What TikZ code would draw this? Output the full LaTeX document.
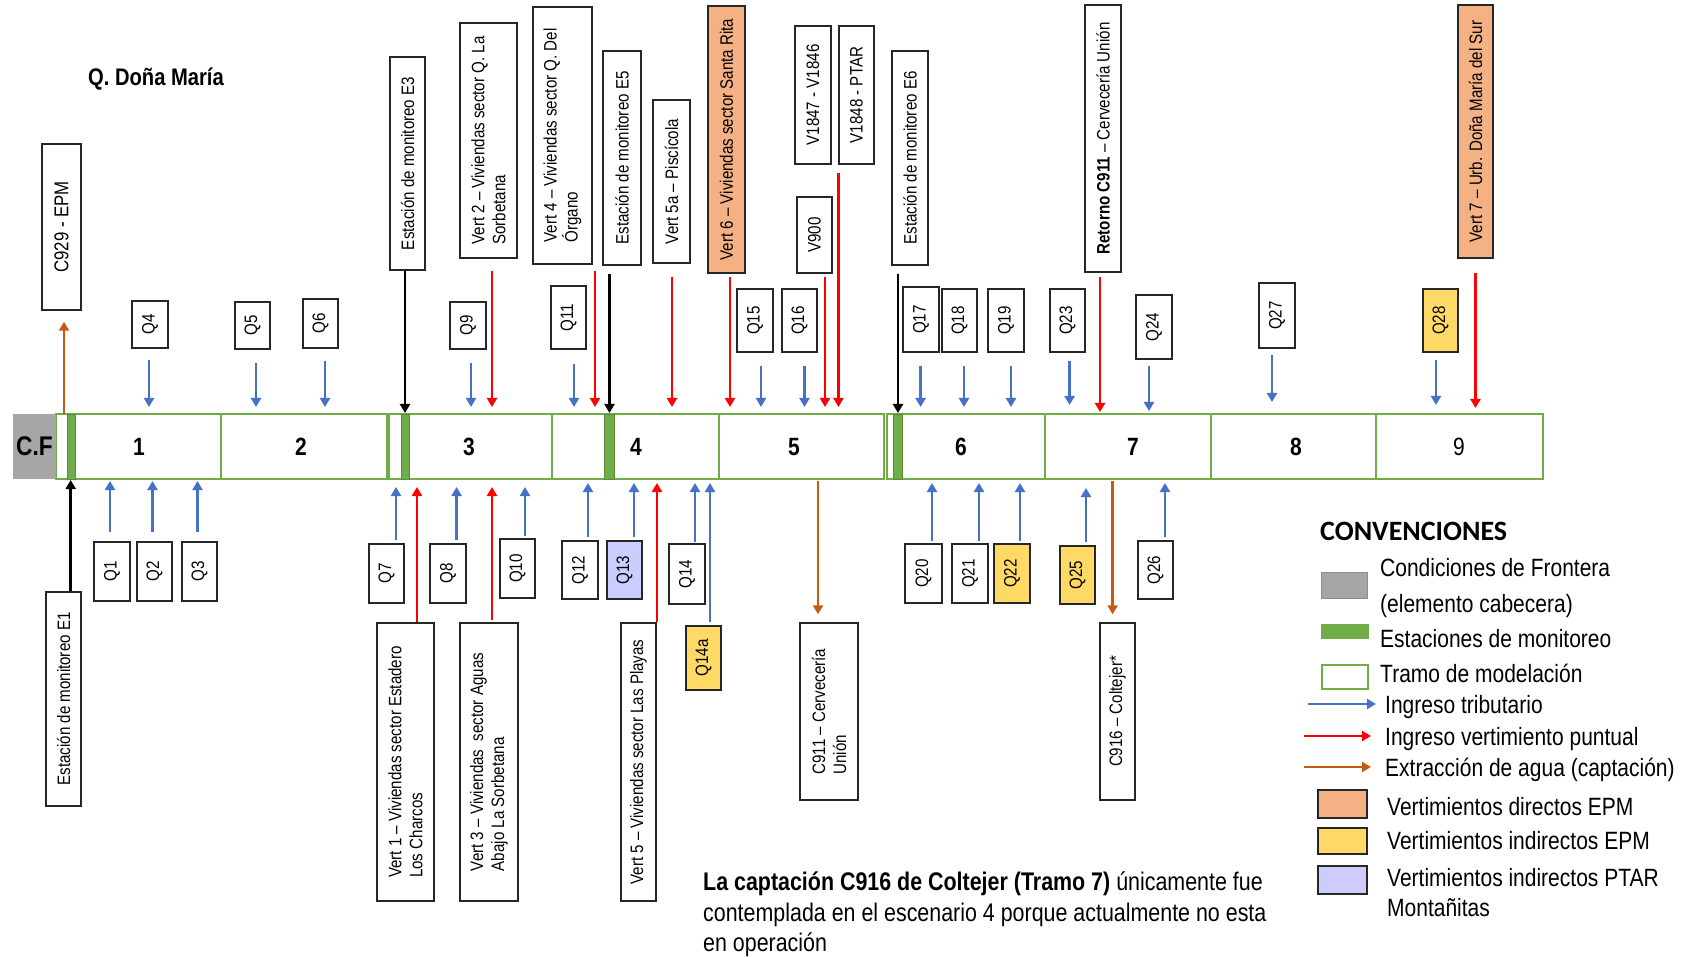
\documentclass[tikz,border=0pt]{standalone}
\usepackage{fontspec}
\setmainfont{Liberation Sans}[FakeStretch=0.84]
\newfontfamily\calib{Carlito}
\usetikzlibrary{arrows.meta,calc}
\definecolor{cgreen}{HTML}{70AD47}
\definecolor{cblue}{HTML}{4472C4}
\definecolor{cred}{HTML}{FF0000}
\definecolor{corange}{HTML}{C55A11}
\definecolor{csalmon}{HTML}{F4B183}
\definecolor{cyellow}{HTML}{FFD966}
\definecolor{clav}{HTML}{CCCCFF}
\definecolor{cgray}{HTML}{A6A6A6}
\definecolor{cbord}{HTML}{262626}
\tikzset{
  rb/.style={draw=cbord, line width=1.5pt, fill=white, inner sep=0pt, rotate=90, align=left, font=\fontsize{18}{21}\selectfont},
  tramo/.style={draw=cgreen, line width=2.6pt},
  station/.style={fill=cgreen, draw=cgreen!80!black, line width=0.8pt},
  arr/.style={line width=2.6pt, -{Triangle[width=10pt,length=9pt]}},
  ab/.style={arr, draw=cblue, fill=cblue},
  ar/.style={arr, draw=cred, fill=cred},
  ao/.style={arr, draw=corange, fill=corange},
  ak/.style={arr, draw=black, fill=black},
  num/.style={inner sep=0pt, font=\fontsize{25}{30}\selectfont\bfseries},
  leg/.style={anchor=base west, inner sep=0pt, font=\fontsize{25}{30}\selectfont},
  legbox/.style={draw=cbord, line width=1.4pt, inner sep=0pt},
}
\newcommand\RB[7][]{\node[rb,#1,minimum width=#5-#3,minimum height=#4-#2] (#7) at ({(#2+#4)/2},{(#3+#5)/2}) {#6};}
\newcommand\TopArr[5]{\coordinate (#2-t) at (#3,#5); \draw[#1] ($(#2.west -| #2-t)+(0,#4)$) -- (#2-t);}
\newcommand\BotArr[5]{\coordinate (#2-t) at (#3,#5); \draw[#1] ($(#2.east -| #2-t)+(0,-#4)$) -- (#2-t);}
\begin{document}
\begin{tikzpicture}[x=1pt,y=-1pt]
\useasboundingbox[fill=white] (0,0) rectangle (1682,957);

% title
\node[anchor=base west, inner sep=0pt, font=\fontsize{24}{28}\selectfont\bfseries] (title) at (88,86) {Q. Doña María};

% tramos
\foreach \a/\b in {56/221,221/387,389/552,552/719,719/884,887/1045,1045/1211,1211/1376,1376/1543}
  {\draw[tramo] (\a,414) rectangle (\b,479);}
% stations
\filldraw[station] (67,414) rectangle (75,479);
\filldraw[station] (401,414) rectangle (409,479);
\filldraw[station] (604,414) rectangle (614,479);
\filldraw[station] (893,414) rectangle (902,479);
% C.F
\node[fill=cgray, minimum width=43, minimum height=65, inner sep=0pt, font=\fontsize{27}{30}\selectfont\bfseries] (cf) at (34.5,446.5) {C.F};
% tramo numbers
\node[num] (n1) at (139,447) {1};
\node[num] (n2) at (301,447) {2};
\node[num] (n3) at (469,447) {3};
\node[num] (n4) at (636,447) {4};
\node[num] (n5) at (794,447) {5};
\node[num] (n6) at (961,447) {6};
\node[num] (n7) at (1133,447) {7};
\node[num] (n8) at (1296,447) {8};
\node[inner sep=0pt, font=\fontsize{25}{30}\selectfont] (n9) at (1459,447) {9};

% top boxes
\RB[font=\fontsize{20}{24}\selectfont]{42}{144}{81}{310}{C929 - EPM}{c929}
\RB{132}{301}{168}{348}{Q4}{q4}
\RB{235}{302}{270}{349}{Q5}{q5}
\RB{303}{299}{338}{348}{Q6}{q6}
\RB{390}{57}{425}{270}{Estación de monitoreo E3}{e3}
\RB{450}{302}{486}{349}{Q9}{q9}
\RB{460}{23}{517}{258}{Vert 2 – Viviendas sector Q. La\\Sorbetana}{v2}
\RB{533}{7}{592}{264}{Vert 4 – Viviendas sector Q. Del\\Órgano}{v4}
\RB{551}{286}{586}{349}{Q11}{q11}
\RB{603}{51}{641}{265}{Estación de monitoreo E5}{e5}
\RB{653}{100}{690}{263}{Vert 5a – Piscícola}{v5a}
\RB[fill=csalmon]{708}{6}{745}{273}{Vert 6 – Viviendas sector Santa Rita}{v6}
\RB{737}{289}{773}{352}{Q15}{q15}
\RB{782}{289}{817}{352}{Q16}{q16}
\RB{795}{26}{831}{164}{V1847 - V1846}{v1847}
\RB{839}{26}{874}{164}{V1848 - PTAR}{v1848}
\RB{797}{197}{832}{273}{V900}{v900}
\RB{892}{51}{928}{265}{Estación de monitoreo E6}{e6}
\RB{903}{287}{939}{352}{Q17}{q17}
\RB{942}{289}{977}{352}{Q18}{q18}
\RB{988}{289}{1024}{352}{Q19}{q19}
\RB{1050}{289}{1085}{352}{Q23}{q23}
\RB{1085}{5}{1121}{272}{\textbf{Retorno C911} – Cervecería Unión}{ret}
\RB{1136}{295}{1172}{359}{Q24}{q24}
\RB{1259}{283}{1295}{348}{Q27}{q27}
\RB[fill=cyellow]{1423}{289}{1458}{352}{Q28}{q28}
\RB[fill=csalmon]{1458}{5}{1493}{258}{Vert 7 – Urb. Doña María del Sur}{v7}

% bottom boxes
\RB{46}{592}{81}{806}{Estación de monitoreo E1}{e1}
\RB{94}{542}{130}{601}{Q1}{q1}
\RB{137}{542}{172}{601}{Q2}{q2}
\RB{182}{542}{217}{601}{Q3}{q3}
\RB{369}{544}{404}{603}{Q7}{q7}
\RB{377}{623}{434}{901}{Vert 1 – Viviendas sector Estadero\\Los Charcos}{v1}
\RB{430}{544}{466}{603}{Q8}{q8}
\RB{460}{623}{518}{901}{Vert 3 – Viviendas\ \ sector Aguas\\Abajo La Sorbetana}{v3}
\RB{500}{539}{535}{598}{Q10}{q10}
\RB{562}{541}{598}{599}{Q12}{q12}
\RB[fill=clav]{607}{541}{642}{599}{Q13}{q13}
\RB{621}{623}{656}{901}{Vert 5 – Viviendas sector Las Playas}{v5}
\RB{669}{544}{705}{604}{Q14}{q14}
\RB[fill=cyellow]{686}{626}{721}{690}{Q14a}{q14a}
\RB{800}{623}{858}{800}{C911 – Cervecería\\Unión}{c911}
\RB{905}{544}{942}{603}{Q20}{q20}
\RB{952}{544}{988}{603}{Q21}{q21}
\RB[fill=cyellow]{994}{544}{1030}{603}{Q22}{q22}
\RB[fill=cyellow]{1060}{546}{1095}{604}{Q25}{q25}
\RB{1100}{623}{1135}{800}{C916 – Coltejer*}{c916}
\RB{1138}{541}{1173}{599}{Q26}{q26}

% top arrows
\coordinate (c929-s) at (64,414);
\draw[ao] (c929-s) -- ($(c929.west -| c929-s)+(0,11)$);
\TopArr{ab}{q4}{149}{11}{407}
\TopArr{ab}{q5}{256}{13}{407}
\TopArr{ab}{q6}{325}{12}{407}
\TopArr{ak}{e3}{405}{0}{413}
\TopArr{ab}{q9}{471}{13}{407}
\TopArr{ar}{v2}{492}{12}{407}
\TopArr{ab}{q11}{574}{14}{407}
\TopArr{ar}{v4}{595}{6}{407}
\TopArr{ak}{e5}{609.5}{8}{413}
\TopArr{ar}{v5a}{672}{13}{407}
\TopArr{ar}{v6}{730}{3}{407}
\TopArr{ab}{q15}{761}{13}{407}
\TopArr{ab}{q16}{804.5}{13}{407}
\TopArr{ar}{v900}{825}{3}{407}
\TopArr{ar}{v1848}{838.5}{8}{407}
\TopArr{ak}{e6}{898}{8}{413}
\TopArr{ab}{q17}{920.6}{13}{407}
\TopArr{ab}{q18}{964}{13}{407}
\TopArr{ab}{q19}{1011}{13}{407}
\TopArr{ab}{q23}{1069.6}{8}{405}
\TopArr{ar}{ret}{1100}{4}{412}
\TopArr{ab}{q24}{1149}{6}{411}
\TopArr{ab}{q27}{1272}{6}{402}
\TopArr{ab}{q28}{1436}{7}{405}
\TopArr{ar}{v7}{1475.5}{14}{408}

% bottom arrows
\BotArr{ak}{e1}{70.7}{0}{480}
\BotArr{ab}{q1}{110}{9}{481}
\BotArr{ab}{q2}{152.5}{9}{481}
\BotArr{ab}{q3}{197.5}{9}{481}
\BotArr{ab}{q7}{396}{3}{487}
\BotArr{ar}{v1}{417}{0}{487}
\BotArr{ab}{q8}{456.6}{3}{487}
\BotArr{ar}{v3}{492}{2}{487}
\BotArr{ab}{q10}{525}{2}{487}
\BotArr{ab}{q12}{588}{3}{483}
\BotArr{ab}{q13}{634}{3}{483}
\BotArr{ar}{v5}{657}{0}{483}
\BotArr{ab}{q14}{695}{1}{483}
\BotArr{ab}{q14a}{710}{3}{483}
\BotArr{ab}{q20}{932}{2}{483}
\BotArr{ab}{q21}{979}{2}{483}
\BotArr{ab}{q22}{1020}{2}{483}
\BotArr{ab}{q25}{1086}{3}{488}
\BotArr{ab}{q26}{1165}{3}{483}
\coordinate (c911-s) at (818,481);
\draw[ao] (c911-s) -- ($(c911.east -| c911-s)+(0,-8)$);
\coordinate (c916-s) at (1112.6,481);
\draw[ao] (c916-s) -- ($(c916.east -| c916-s)+(0,-8)$);

% note
\node[leg, font=\fontsize{25.5}{30}\selectfont] (note1) at (703,890) {\textbf{La captación C916 de Coltejer (Tramo 7)} únicamente fue};
\node[leg, font=\fontsize{25.5}{30}\selectfont] (note2) at (703,921) {contemplada en el escenario 4 porque actualmente no esta};
\node[leg, font=\fontsize{25.5}{30}\selectfont] (note3) at (703,951) {en operación};

% legend
\node[anchor=base west, inner sep=0pt, font=\calib\fontsize{28}{32}\selectfont\bfseries] (conv) at (1320,540) {CONVENCIONES};
\node[fill=cgray, draw=cgray!85!black, line width=0.8pt, minimum width=46, minimum height=26, inner sep=0pt] (lg1) at (1344,585) {};
\node[fill=cgreen, minimum width=48, minimum height=15, inner sep=0pt] (lg2) at (1345,631.5) {};
\node[draw=cgreen, line width=2.8pt, minimum width=46, minimum height=24, inner sep=0pt] (lg3) at (1345,677) {};
\coordinate (la1s) at (1308,704); \coordinate (la1e) at (1376,704);
\draw[ab] (la1s) -- (la1e);
\coordinate (la2s) at (1304,736); \coordinate (la2e) at (1371,736);
\draw[ar] (la2s) -- (la2e);
\coordinate (la3s) at (1304,767); \coordinate (la3e) at (1371,767);
\draw[ao] (la3s) -- (la3e);
\node[legbox, fill=csalmon, minimum width=49, minimum height=28] (lg4) at (1342.5,804) {};
\node[legbox, fill=cyellow, minimum width=49, minimum height=26] (lg5) at (1342.5,841) {};
\node[legbox, fill=clav, minimum width=49, minimum height=28] (lg6) at (1342.5,880) {};
\node[leg] (lt1) at (1380,576) {Condiciones de Frontera};
\node[leg] (lt1b) at (1380,612) {(elemento cabecera)};
\node[leg] (lt2) at (1380,647) {Estaciones de monitoreo};
\node[leg] (lt3) at (1380,682) {Tramo de modelación};
\node[leg] (lt4) at (1385,713) {Ingreso tributario};
\node[leg] (lt5) at (1385,745) {Ingreso vertimiento puntual};
\node[leg] (lt6) at (1385,776) {Extracción de agua (captación)};
\node[leg] (lt7) at (1387,815) {Vertimientos directos EPM};
\node[leg] (lt8) at (1387,849) {Vertimientos indirectos EPM};
\node[leg] (lt9) at (1387,886) {Vertimientos indirectos PTAR};
\node[leg] (lt9b) at (1387,916) {Montañitas};
\end{tikzpicture}
\end{document}
